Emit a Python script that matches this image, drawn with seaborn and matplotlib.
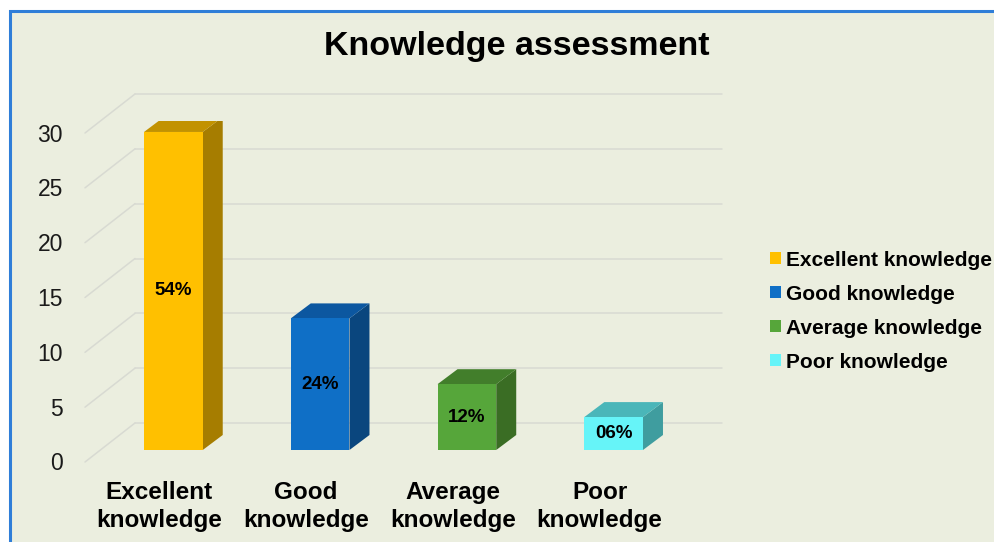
import matplotlib
matplotlib.use("Agg")
import matplotlib.pyplot as plt
import matplotlib.transforms as mtransforms
from matplotlib.patches import Polygon, Rectangle
import seaborn as sns
import pandas as pd

# ---- data ----
categories = ["Excellent knowledge", "Good knowledge", "Average knowledge", "Poor knowledge"]
tick_labels = ["Excellent\nknowledge", "Good\nknowledge", "Average\nknowledge", "Poor\nknowledge"]
values = [29, 12, 6, 3]
pct_labels = ["54%", "24%", "12%", "06%"]
yticks = [0, 5, 10, 15, 20, 25, 30]
title = "Knowledge assessment"

front_colors = ["#FFC000", "#0F6FC6", "#56A63A", "#66F4F8"]
side_colors = ["#A67D00", "#0A467E", "#3A6D24", "#3F9D9F"]
top_colors = ["#C29200", "#0C57A0", "#427E2B", "#4AB6B9"]

BG = "#EBEEDF"
GRID = "#D8DAD2"

sns.set_theme(style="white")
plt.rcParams["font.family"] = ["Liberation Sans", "DejaVu Sans"]
plt.rcParams["text.color"] = "black"
plt.rcParams["xtick.color"] = "black"

DPI = 100
fig = plt.figure(figsize=(9.94, 5.42), dpi=DPI)
fig.patch.set_facecolor("white")

# panel with blue border
panel = Rectangle((10 / 994, -0.2), 1.2, 1.2 - 11 / 542, transform=fig.transFigure,
                  facecolor=BG, edgecolor="#2F7ED8", linewidth=2.2, zorder=-5)
fig.patches.append(panel)

ax = fig.add_axes([100 / 994, (542 - 450) / 542, 587 / 994, 329 / 542])
ax.set_facecolor("none")
ax.set_zorder(2)

df = pd.DataFrame({"category": categories, "value": values})
sns.barplot(data=df, x="category", y="value", hue="category", palette=front_colors,
            width=0.40, dodge=False, legend=False, ax=ax, saturation=1, zorder=3,
            edgecolor="none", linewidth=0)
ax.set_xlim(-0.5, 3.5)
ax.set_ylim(0, 30)
for s in ax.spines.values():
    s.set_visible(False)
ax.set_xlabel("")
ax.set_ylabel("")
ax.set_yticks([])
ax.set_xticks(range(len(categories)))
ax.set_xticklabels(tick_labels, fontsize=17.5, fontweight="bold", linespacing=1.3)
ax.tick_params(axis="x", length=0, pad=22)
for lab in ax.get_xticklabels():
    lab.set_transform(lab.get_transform() + mtransforms.ScaledTranslation(-14 / DPI, 0, fig.dpi_scale_trans))


def off(dx, dy):
    return ax.transData + mtransforms.ScaledTranslation(dx / DPI, dy / DPI, fig.dpi_scale_trans)

# gridlines: back wall and floor/side diagonals
back = (35, 27)
front = (-15, -12)
for v in yticks:
    ax.plot([-0.5, 3.5], [v, v], color=GRID, lw=1.1, transform=off(*back), clip_on=False, zorder=1)
    p0 = ax.transData.transform((-0.5, v))
    xs = [p0[0] + front[0], p0[0] + back[0]]
    ys = [p0[1] + front[1], p0[1] + back[1]]
    ax.plot(xs, ys, color=GRID, lw=1.1, transform=None, clip_on=False, zorder=1)
    ax.text(-0.5, v, str(v), transform=off(front[0] - 22, front[1] - 2), ha="right", va="center",
            fontsize=16.5, color="#1A1A1A")

# 3D faces of bars
depth = (20, 15)
fig.canvas.draw()
for i, p in enumerate(ax.patches):
    x0, y0 = p.get_x(), p.get_y()
    x1, y1 = x0 + p.get_width(), y0 + p.get_height()
    br = ax.transData.transform((x1, y0))
    tl = ax.transData.transform((x0, y1))
    tr = ax.transData.transform((x1, y1))
    dx, dy = depth
    side = Polygon([br, tr, (tr[0] + dx, tr[1] + dy), (br[0] + dx, br[1] + dy)],
                   closed=True, transform=None, facecolor=side_colors[i], edgecolor="none", zorder=2.5)
    top = Polygon([tl, tr, (tr[0] + dx, tr[1] + dy), (tl[0] + dx, tl[1] + dy)],
                  closed=True, transform=None, facecolor=top_colors[i], edgecolor="none", zorder=2.5)
    ax.add_artist(side)
    ax.add_artist(top)
    ax.text(p.get_x() + p.get_width() / 2, y1 / 2, pct_labels[i], ha="center", va="center",
            fontsize=13.5, fontweight="bold", color="black", zorder=4)

fig.text(517 / 994, 1 - 47 / 542, title, ha="center", va="center", fontsize=24.5, fontweight="bold",
         color="black")

handles = [Rectangle((0, 0), 1, 1, facecolor=c, edgecolor="none") for c in front_colors]
fig.legend(handles, categories, loc="center left", bbox_to_anchor=(751 / 994, 1 - 311 / 542),
           frameon=False, prop={"size": 15, "weight": "bold"}, handlelength=0.55, handleheight=0.55,
           handletextpad=0.25, labelspacing=0.72)

fig.savefig("out.png", dpi=DPI, facecolor=fig.get_facecolor())
